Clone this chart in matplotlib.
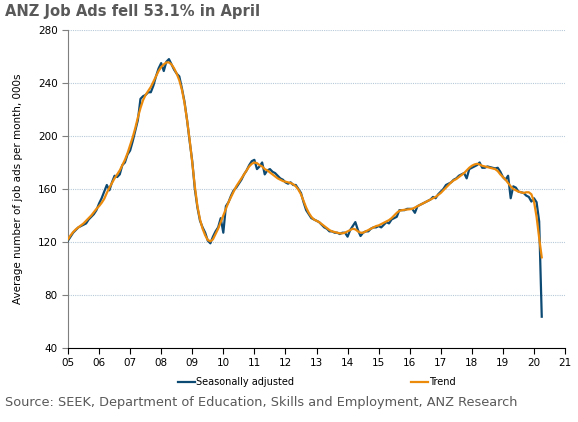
import numpy as np
import matplotlib
matplotlib.use("Agg")
from matplotlib import pyplot as plt

# monthly values, Jan 2005 .. Apr 2020 (000s)
sa_values = [
    121, 124, 127, 129, 131, 132, 133, 134, 137, 139, 141, 144,   # 2005
    149, 153, 158, 163, 159, 165, 170, 169, 171, 178, 180, 186,   # 2006
    189, 196, 204, 212, 228, 230, 231, 233, 233, 238, 245, 251,   # 2007
    255, 249, 256, 258, 254, 250, 247, 245, 236, 226, 212, 196,   # 2008
    181, 160, 146, 136, 131, 127, 121, 119, 124, 128, 131, 138,   # 2009
    127, 147, 150, 155, 159, 161, 164, 167, 171, 174, 178, 181,   # 2010
    182, 175, 177, 180, 171, 174, 175, 173, 172, 170, 168, 167,   # 2011
    165, 164, 165, 163, 163, 160, 157, 150, 144, 141, 138, 137,   # 2012
    136, 135, 133, 131, 130, 128, 128, 127, 127, 126, 127, 127,   # 2013
    124, 129, 132, 135, 129, 124.5, 127, 128, 128, 130, 131, 131, # 2014
    132, 131, 133, 135, 134, 137, 138, 139, 144, 144, 144, 145,   # 2015
    145, 145, 142, 147, 148, 149, 150, 151, 152, 154, 153, 156,   # 2016
    158, 160, 163, 164, 165, 167, 168, 170, 171, 172, 168, 175,   # 2017
    176, 177, 178, 180, 176, 176, 177, 176.5, 176, 175.5, 176, 173,  # 2018
    169, 167, 170, 153, 162, 161, 158, 157.5, 157, 155, 154, 150.5,  # 2019
    153, 150, 135.6, 63.6,                                         # 2020
]
trend_values = [
    122, 125, 127.5, 129.5, 131, 132.5, 134, 136, 138, 140, 142.5, 145,
    147, 149.5, 152.5, 157, 161, 164.5, 168, 171, 174, 178, 182, 187,
    193, 199, 206, 214, 221, 227, 231, 234, 237, 241, 245, 249,
    252, 254, 255.5, 255.5, 254, 251, 247, 242, 235, 225, 212, 197,
    180, 162, 147, 137, 130, 125, 121.5, 120.5, 122, 126, 130, 135,
    140, 145, 150, 154, 158, 162, 165, 168, 171, 174, 177, 179,
    180, 179.5, 178, 177, 175, 174, 172.5, 171, 169.5, 168, 167, 166,
    165.5, 165, 164.5, 163.5, 162, 159.5, 156, 151, 146, 142, 139, 137,
    136, 135, 133.5, 132, 130.5, 129, 128, 127.5, 127, 126.5, 126.5, 127,
    128, 129, 130, 129.5, 128, 127, 127, 128, 129, 130, 131, 132,
    132.5, 133.5, 134.5, 135.5, 136.5, 138, 140, 142, 143.5, 144, 144.3, 144.5,
    144.7, 145, 146, 147, 148, 149, 150, 151, 152, 153, 154, 155.5,
    157, 159, 161, 163, 165, 166.5, 167.5, 169, 170.5, 172, 174, 176,
    177.5, 178.5, 179, 178.5, 177.5, 177, 176.5, 176, 175.5, 175, 173.5, 171,
    169, 167, 164.5, 162, 160, 159, 158, 157.5, 157, 157.5, 157.5, 156,
    150.5, 139, 123, 108.4,
]
year_ticks = list(range(2005, 2022))
year_labels = ["%02d" % (y % 100) for y in year_ticks]
y_ticks = [40, 80, 120, 160, 200, 240, 280]

months = 2005 + np.arange(len(sa_values)) / 12.0

fig = plt.figure(figsize=(5.78, 4.22), dpi=100)
ax = fig.add_axes([0.1176, 0.1754, 0.86, 0.7536])

ax.plot(months, sa_values, color="#0d4a73", lw=1.6, label="Seasonally adjusted", zorder=3)
ax.plot(months, trend_values, color="#ec8a0c", lw=1.6, label="Trend", zorder=4)

ax.set_xlim(2005, 2021)
ax.set_ylim(40, 280)
ax.set_xticks(year_ticks)
ax.set_xticklabels(year_labels)
ax.set_yticks(y_ticks)
for y in y_ticks[1:]:
    ax.axhline(y, color="#b7c9d9", lw=0.8, ls=(0, (1, 1)), zorder=1)

for s in ["top", "right"]:
    ax.spines[s].set_visible(False)
ax.spines["left"].set_color("#7f7f7f")
ax.spines["bottom"].set_color("#000000")
ax.spines["bottom"].set_linewidth(0.8)
ax.tick_params(axis="both", labelsize=7.5, colors="#000000", length=4, width=0.8)
ax.tick_params(axis="y", colors="#7f7f7f", labelcolor="#000000")
ax.set_ylabel("Average number of job ads per month, 000s", fontsize=7.5)
ax.yaxis.set_label_coords(-0.09, 0.5)

fig.text(0.009, 0.972, "ANZ Job Ads fell 53.1% in April", fontsize=10.6, fontweight="bold",
         color="#595959", va="center", ha="left")
fig.text(0.009, 0.047, "Source: SEEK, Department of Education, Skills and Employment, ANZ Research",
         fontsize=9.3, color="#595959", va="center", ha="left")

fig.legend(loc="center", bbox_to_anchor=(0.548, 0.095), ncol=2, frameon=False,
           fontsize=7, handlelength=1.75, handletextpad=0.1, columnspacing=12)

fig.savefig("out.png", dpi=100)
